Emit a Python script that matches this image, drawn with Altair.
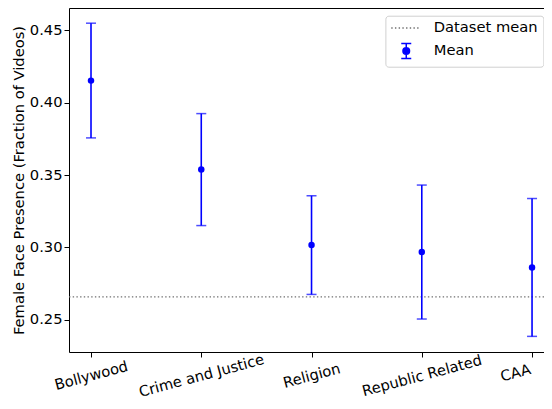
import altair as alt
import pandas as pd

# ---- data ----
categories = ["Bollywood", "Crime and Justice", "Religion", "Republic Related", "CAA"]
means = [0.4153, 0.3538, 0.3016, 0.2968, 0.2861]
lower = [0.3757, 0.3151, 0.2675, 0.2505, 0.2385]
upper = [0.4550, 0.3925, 0.3357, 0.3431, 0.3338]
dataset_mean = 0.2658
legend_labels = ["Dataset mean", "Mean"]
y_ticks = [0.25, 0.30, 0.35, 0.40, 0.45]

df = pd.DataFrame({"category": categories, "mean": means, "lower": lower, "upper": upper})
mean_df = pd.DataFrame({"value": [dataset_mean]})
leg_df = pd.DataFrame({"label": legend_labels,
                       "category": [categories[0], categories[0]],
                       "y": [dataset_mean, means[0]]})

FONT = "DejaVu Sans"
FS = 14.7
BLUE = "#0000ff"
GRAY = "#707070"

# the reference's right spine lies just outside the picture
xscale = alt.Scale(type="point", domain=categories, padding=0.154, align=0.648)
yscale = alt.Scale(domain=[0.2277, 0.4655], nice=False, zero=False)

# legend symbols (custom paths, unit = sqrt(symbolSize)/2 px)
dotted_path = "".join(f"M{-3 + i * 0.74:.2f},0h0.28" for i in range(8))
errbar_path = ("M0,-1.5V1.5M-1,-1.5H1M-1,1.5H1"
               "M-0.66,0A0.66,0.66 0 1,0 0.66,0A0.66,0.66 0 1,0 -0.66,0Z")

last = categories[-1]
bottom_axis = alt.Axis(
    title=None, labelAngle=345,
    labelAlign={"condition": {"test": f"datum.label == '{last}'", "value": "right"},
                "value": "center"},
    labelBaseline={"condition": {"test": f"datum.label == '{last}'", "value": "bottom"},
                   "value": "middle"},
    labelPadding=19, tickSize=5, tickColor="black", tickWidth=1,
    domainColor="black", domainWidth=1, labelFontSize=FS, labelColor="black",
    grid=False, labelLimit=300)
top_axis = alt.Axis(orient="top", title=None, labels=False, ticks=False,
                    domain=True, domainColor="black", domainWidth=1, grid=False)
y_axis = alt.Axis(title="Female Face Presence (Fraction of Videos)", values=y_ticks,
                  format=".2f", labelFontSize=FS, labelColor="black",
                  tickColor="black", tickSize=5, tickWidth=1, domainColor="black",
                  domainWidth=1, labelPadding=2, titleFontSize=FS,
                  titleFontWeight="normal", titleColor="black", titlePadding=3,
                  grid=False)

base = alt.Chart(df)

bars = base.mark_rule(color=BLUE, strokeWidth=1.6).encode(
    x=alt.X("category:N", scale=xscale, sort=categories, axis=bottom_axis),
    y=alt.Y("lower:Q", scale=yscale, axis=y_axis),
    y2="upper:Q",
)
caps_top = base.mark_tick(color=BLUE, size=10, thickness=1.5).encode(
    x=alt.X("category:N", scale=xscale, sort=categories, axis=top_axis),
    y=alt.Y("upper:Q", scale=yscale, axis=y_axis),
)
caps_bot = base.mark_tick(color=BLUE, size=10, thickness=1.5).encode(
    x=alt.X("category:N", scale=xscale, sort=categories, axis=None),
    y=alt.Y("lower:Q", scale=yscale, axis=y_axis),
)
points = base.mark_circle(color=BLUE, size=42, opacity=1).encode(
    x=alt.X("category:N", scale=xscale, sort=categories, axis=None),
    y=alt.Y("mean:Q", scale=yscale, axis=y_axis),
)
mean_line = alt.Chart(mean_df).mark_rule(color=GRAY, strokeWidth=1.1,
                                         strokeDash=[1.4, 2.3]).encode(
    y=alt.Y("value:Q", scale=yscale, axis=y_axis),
)

leg_common = dict(orient="none", legendX=316.4, legendY=7.7, padding=5,
                  strokeColor="#d0d0d0", fillColor="white", cornerRadius=3,
                  labelFont=FONT, labelFontSize=FS, labelColor="black",
                  symbolSize=100, symbolStrokeWidth=1.5, symbolOffset=8.5,
                  labelOffset=20.2, rowPadding=4, symbolOpacity=1)

legend_layer = alt.Chart(leg_df).mark_point(filled=True, opacity=0).encode(
    x=alt.X("category:N", scale=xscale, sort=categories, axis=None),
    y=alt.Y("y:Q", scale=yscale, axis=y_axis),
    shape=alt.Shape("label:N", title=None,
                    scale=alt.Scale(domain=legend_labels, range=[dotted_path, errbar_path]),
                    legend=alt.Legend(**leg_common)),
    fill=alt.Fill("label:N", title=None,
                  scale=alt.Scale(domain=legend_labels, range=[GRAY, BLUE]),
                  legend=alt.Legend(**leg_common)),
    stroke=alt.Stroke("label:N", title=None,
                      scale=alt.Scale(domain=legend_labels, range=[GRAY, BLUE]),
                      legend=alt.Legend(**leg_common)),
)

chart = alt.layer(mean_line, bars, caps_top, caps_bot, points, legend_layer).resolve_axis(
    x="independent"
).properties(
    width=475, height=344,
    padding={"left": 61, "top": 0, "right": 0, "bottom": 49},
    autosize=alt.AutoSizeParams(type="none"),
).configure_view(stroke=None).configure_axis(
    labelFont=FONT, titleFont=FONT
).configure(font=FONT)

chart.save("out.html", embed_options={"renderer": "svg", "actions": False})
